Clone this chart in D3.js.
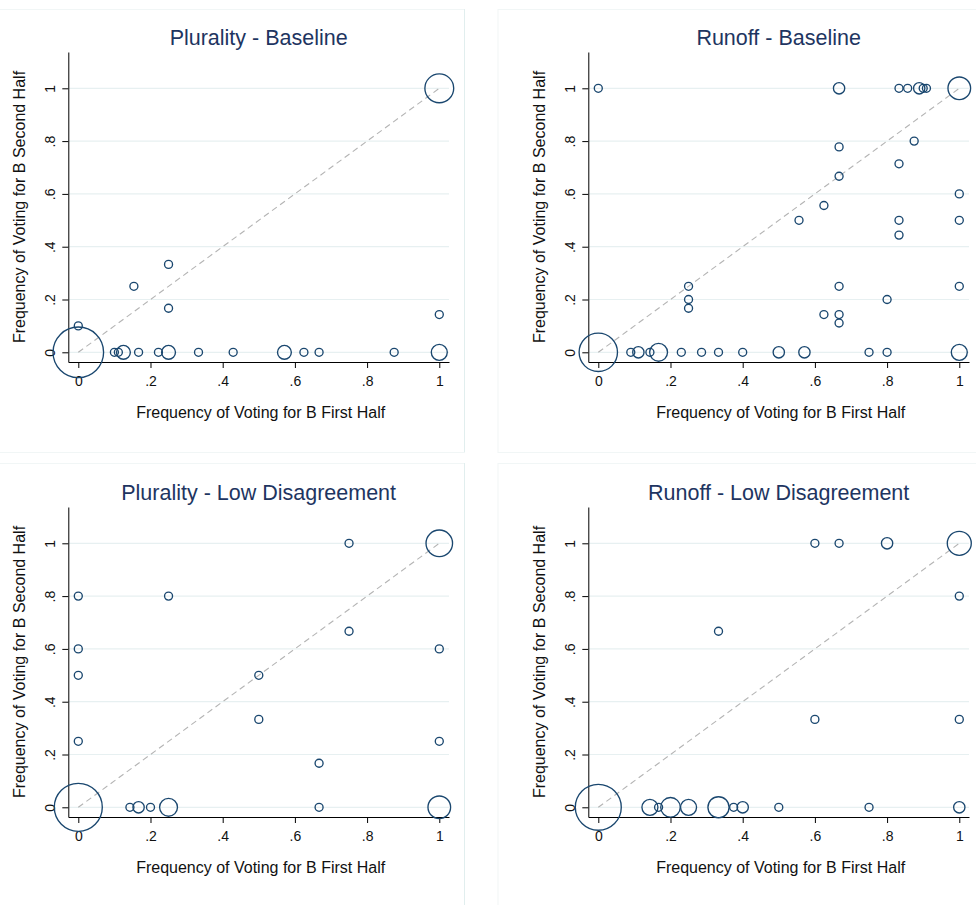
<!DOCTYPE html>
<html>
<head>
<meta charset="utf-8">
<script src="https://cdn.jsdelivr.net/npm/d3@7"></script>
<style>
  html, body { margin: 0; padding: 0; background: #fff; }
  svg { display: block; font-family: "Liberation Sans", Arial, sans-serif; }
</style>
</head>
<body>
<svg id="chart" width="976" height="905"></svg>
<script>
// Panel titles and shared axis text
const panelTitles = ["Plurality - Baseline", "Runoff - Baseline",
                     "Plurality - Low Disagreement", "Runoff - Low Disagreement"];
const xAxisTitle = "Frequency of Voting for B First Half";
const yAxisTitle = "Frequency of Voting for B Second Half";
const tickValues = [0, 0.2, 0.4, 0.6, 0.8, 1];
const tickLabels = ["0", ".2", ".4", ".6", ".8", "1"];

// Plurality - Baseline: first-half share, second-half share, number of subjects
const pluralityBaseX = [0, 0, 1, 0.154, 0.25, 0.25, 1,
  0.1, 0.111, 0.125, 0.167, 0.222, 0.25, 0.333, 0.429, 0.571, 0.625, 0.667, 0.875, 1];
const pluralityBaseY = [0, 0.1, 1, 0.25, 0.333, 0.167, 0.143,
  0, 0, 0, 0, 0, 0, 0, 0, 0, 0, 0, 0, 0];
const pluralityBaseN = [40, 1, 13, 1, 1, 1, 1,
  1, 1, 3, 1, 1, 3, 1, 1, 3, 1, 1, 1, 4];

// Runoff - Baseline
const runoffBaseX = [0, 0.667, 0.833, 0.857, 0.889, 0.9, 0.909, 1,
  0.875, 0.667, 0.833, 0.667, 1, 0.625, 0.556, 0.833, 1, 0.833,
  0.25, 0.25, 0.25, 0.667, 1, 0.8, 0.625, 0.667, 0.667,
  0, 0.09, 0.111, 0.143, 0.167, 0.23, 0.286, 0.333, 0.4, 0.5, 0.571, 0.75, 0.8, 1];
const runoffBaseY = [1, 1, 1, 1, 1, 1, 1, 1,
  0.8, 0.778, 0.714, 0.667, 0.6, 0.556, 0.5, 0.5, 0.5, 0.444,
  0.25, 0.2, 0.167, 0.25, 0.25, 0.2, 0.143, 0.143, 0.111,
  0, 0, 0, 0, 0, 0, 0, 0, 0, 0, 0, 0, 0, 0];
const runoffBaseN = [1, 2, 1, 1, 2, 1, 1, 8,
  1, 1, 1, 1, 1, 1, 1, 1, 1, 1,
  1, 1, 1, 1, 1, 1, 1, 1, 1,
  23, 1, 2, 1, 5, 1, 1, 1, 1, 2, 2, 1, 1, 4];

// Plurality - Low Disagreement
const pluralityLowX = [0, 1, 0.75, 0, 0.25, 0.75, 0, 1, 0, 0.5, 0.5, 0, 1, 0.667,
  0.667, 0.143, 0.167, 0.2, 0.25, 1];
const pluralityLowY = [0, 1, 1, 0.8, 0.8, 0.667, 0.6, 0.6, 0.5, 0.5, 0.333, 0.25, 0.25, 0.167,
  0, 0, 0, 0, 0, 0];
const pluralityLowN = [36, 11, 1, 1, 1, 1, 1, 1, 1, 1, 1, 1, 1, 1,
  1, 1, 2, 1, 5, 8];

// Runoff - Low Disagreement
const runoffLowX = [0, 1, 0.6, 0.667, 0.8, 1, 0.333, 0.6, 1,
  0.143, 0.167, 0.2, 0.25, 0.333, 0.375, 0.4, 0.5, 0.75, 1];
const runoffLowY = [0, 1, 1, 1, 1, 0.8, 0.667, 0.333, 0.333,
  0, 0, 0, 0, 0, 0, 0, 0, 0, 0];
const runoffLowN = [33, 9, 1, 1, 2, 1, 1, 1, 1,
  4, 1, 6, 4, 7, 1, 2, 1, 1, 2];

const panelX = [pluralityBaseX, runoffBaseX, pluralityLowX, runoffLowX];
const panelY = [pluralityBaseY, runoffBaseY, pluralityLowY, runoffLowY];
const panelN = [pluralityBaseN, runoffBaseN, pluralityLowN, runoffLowN];

// ---- layout ----
const svg = d3.select("#chart");
const offsets = [[0, 0], [520, 0], [0, 455], [520, 455]];
const plot = { left: 68.3, right: 449, top: 52, bottom: 362 };
const navy = "#1a476f";
const titleColor = "#1e3561";

// faint outlines of each sub-graph region
const regions = [[-1, 9, 464, 452], [497.5, 9, 980, 452], [-1, 463, 464, 910], [497.5, 463, 980, 910]];
regions.forEach(([x0, y0, x1, y1]) => {
  svg.append("rect").attr("x", x0 + 0.5).attr("y", y0 + 0.5)
    .attr("width", x1 - x0).attr("height", y1 - y0)
    .attr("fill", "none").attr("stroke", "#f1f6f6").attr("stroke-width", 1);
});
// divider between the left and right columns
[[9, 452], [463, 905]].forEach(([y0, y1]) => {
  svg.append("line").attr("x1", 464.5).attr("x2", 464.5).attr("y1", y0).attr("y2", y1)
    .attr("stroke", "#e1eeee").attr("stroke-width", 1);
});

const rScale = d3.scaleSqrt().domain([0, 40]).range([0, 4 * Math.sqrt(40)]);

panelTitles.forEach((title, i) => {
  const [ox, oy] = offsets[i];
  const g = svg.append("g").attr("transform", `translate(${ox},${oy})`);

  const x = d3.scaleLinear().domain([-0.0277, 1.0269]).range([plot.left, plot.right]);
  const y = d3.scaleLinear().domain([-0.0367, 1.1375]).range([plot.bottom, plot.top]);

  // horizontal grid lines
  g.append("g").selectAll("line").data(tickValues).join("line")
    .attr("x1", plot.left).attr("x2", plot.right)
    .attr("y1", d => y(d)).attr("y2", d => y(d))
    .attr("stroke", "#e7f0f1").attr("stroke-width", 1.2);

  // 45-degree reference line
  g.append("line")
    .attr("x1", x(0)).attr("y1", y(0)).attr("x2", x(1)).attr("y2", y(1))
    .attr("stroke", "#b4b4b4").attr("stroke-width", 1.1)
    .attr("stroke-dasharray", "6,4");

  // x axis
  const xAxis = g.append("g").attr("transform", `translate(0,${plot.bottom})`)
    .call(d3.axisBottom(x).tickValues(tickValues)
      .tickFormat((d, k) => tickLabels[k]).tickSize(6).tickSizeOuter(0));
  xAxis.select(".domain").attr("stroke", "#000");
  xAxis.selectAll(".tick line").attr("stroke", "#000");
  xAxis.selectAll(".tick text").attr("y", 24).attr("dy", 0)
    .attr("font-size", 14).attr("fill", "#111")
    .attr("font-family", "Liberation Sans, Arial, sans-serif");

  // y axis with rotated tick labels
  const yAxis = g.append("g").attr("transform", `translate(${plot.left},0)`)
    .call(d3.axisLeft(y).tickValues(tickValues)
      .tickFormat((d, k) => tickLabels[k]).tickSize(6).tickSizeOuter(0));
  yAxis.select(".domain").attr("stroke", "#000");
  yAxis.selectAll(".tick line").attr("stroke", "#000");
  yAxis.selectAll(".tick text")
    .attr("x", null).attr("dy", null)
    .attr("transform", "translate(-13,0) rotate(-90)")
    .attr("text-anchor", "middle")
    .attr("font-size", 14).attr("fill", "#111")
    .attr("font-family", "Liberation Sans, Arial, sans-serif");

  // titles
  g.append("text").attr("x", (plot.left + plot.right) / 2).attr("y", 44.5)
    .attr("text-anchor", "middle").attr("font-size", 21.5).attr("fill", titleColor)
    .text(title);
  g.append("text").attr("x", (plot.left + plot.right) / 2 + 2).attr("y", 418)
    .attr("text-anchor", "middle").attr("font-size", 16).attr("fill", "#111")
    .text(xAxisTitle);
  g.append("text")
    .attr("transform", `translate(25,${(plot.top + plot.bottom) / 2}) rotate(-90)`)
    .attr("text-anchor", "middle").attr("font-size", 16).attr("fill", "#111")
    .text(yAxisTitle);

  // weighted hollow markers
  const pts = panelX[i].map((v, k) => ({ fx: v, sy: panelY[i][k], n: panelN[i][k] }));
  g.append("g").selectAll("circle").data(pts).join("circle")
    .attr("cx", d => x(d.fx)).attr("cy", d => y(d.sy))
    .attr("r", d => rScale(d.n))
    .attr("fill", "none").attr("stroke", navy).attr("stroke-width", 1.35);
});
</script>
</body>
</html>
